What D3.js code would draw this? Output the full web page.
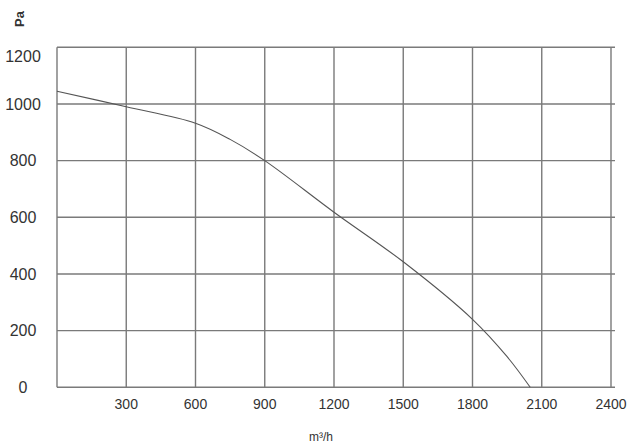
<!DOCTYPE html>
<html>
<head>
<meta charset="utf-8">
<script src="https://cdn.jsdelivr.net/npm/d3@7"></script>
<style>
  html, body { margin: 0; padding: 0; background: #fff; }
  svg { display: block; font-family: "Liberation Sans", Arial, sans-serif; }
</style>
</head>
<body>
<svg id="chart" width="631" height="448"></svg>
<script>
// Data
const flow = [0, 300, 600, 750, 900, 1200, 1500, 1800, 1950, 2050];
const pressure = [1045, 990, 932, 875, 800, 618, 443, 240, 108, 0];
const xTicks = [300, 600, 900, 1200, 1500, 1800, 2100, 2400];
const yTicks = [0, 200, 400, 600, 800, 1000, 1200];
const xTitle = "m³/h";
const yTitle = "Pa";

const svg = d3.select("#chart");
const x = d3.scaleLinear().domain([0, 2400]).range([57, 611]);
const y = d3.scaleLinear().domain([0, 1200]).range([387.3, 47.3]);

const gridColor = "#7a7a7a";

// horizontal grid lines
svg.append("g").selectAll("line").data(yTicks).join("line")
  .attr("x1", x(0)).attr("x2", x(2400) + 4)
  .attr("y1", d => y(d)).attr("y2", d => y(d))
  .attr("stroke", gridColor).attr("stroke-width", 1.4);

// vertical grid lines
svg.append("g").selectAll("line").data([0].concat(xTicks)).join("line")
  .attr("x1", d => x(d)).attr("x2", d => x(d))
  .attr("y1", y(1200)).attr("y2", y(0))
  .attr("stroke", gridColor).attr("stroke-width", 1.4);

// y labels
svg.append("g").selectAll("text").data(yTicks).join("text")
  .attr("x", 23)
  .attr("y", d => y(d) + (d === 1200 ? 9 : 0))
  .attr("dy", "0.36em")
  .attr("text-anchor", "middle")
  .attr("font-size", 16)
  .attr("fill", "#333")
  .text(d => d);

// x labels
svg.append("g").selectAll("text").data(xTicks).join("text")
  .attr("x", d => x(d))
  .attr("y", 409)
  .attr("text-anchor", "middle")
  .attr("font-size", 14)
  .attr("fill", "#333")
  .text(d => d);

// axis titles
svg.append("text")
  .attr("x", 321).attr("y", 441)
  .attr("text-anchor", "middle")
  .attr("font-size", 12)
  .attr("fill", "#333")
  .text(xTitle);

svg.append("text")
  .attr("transform", "translate(24,19) rotate(-90)")
  .attr("text-anchor", "middle")
  .attr("font-size", 13)
  .attr("font-weight", "bold")
  .attr("fill", "#333")
  .text(yTitle);

// curve
const pts = flow.map((f, i) => [f, pressure[i]]);
const line = d3.line()
  .x(d => x(d[0]))
  .y(d => y(d[1]))
  .curve(d3.curveCatmullRom.alpha(0.5));
svg.append("path")
  .datum(pts)
  .attr("d", line)
  .attr("fill", "none")
  .attr("stroke", "#555")
  .attr("stroke-width", 1.1);
</script>
</body>
</html>
